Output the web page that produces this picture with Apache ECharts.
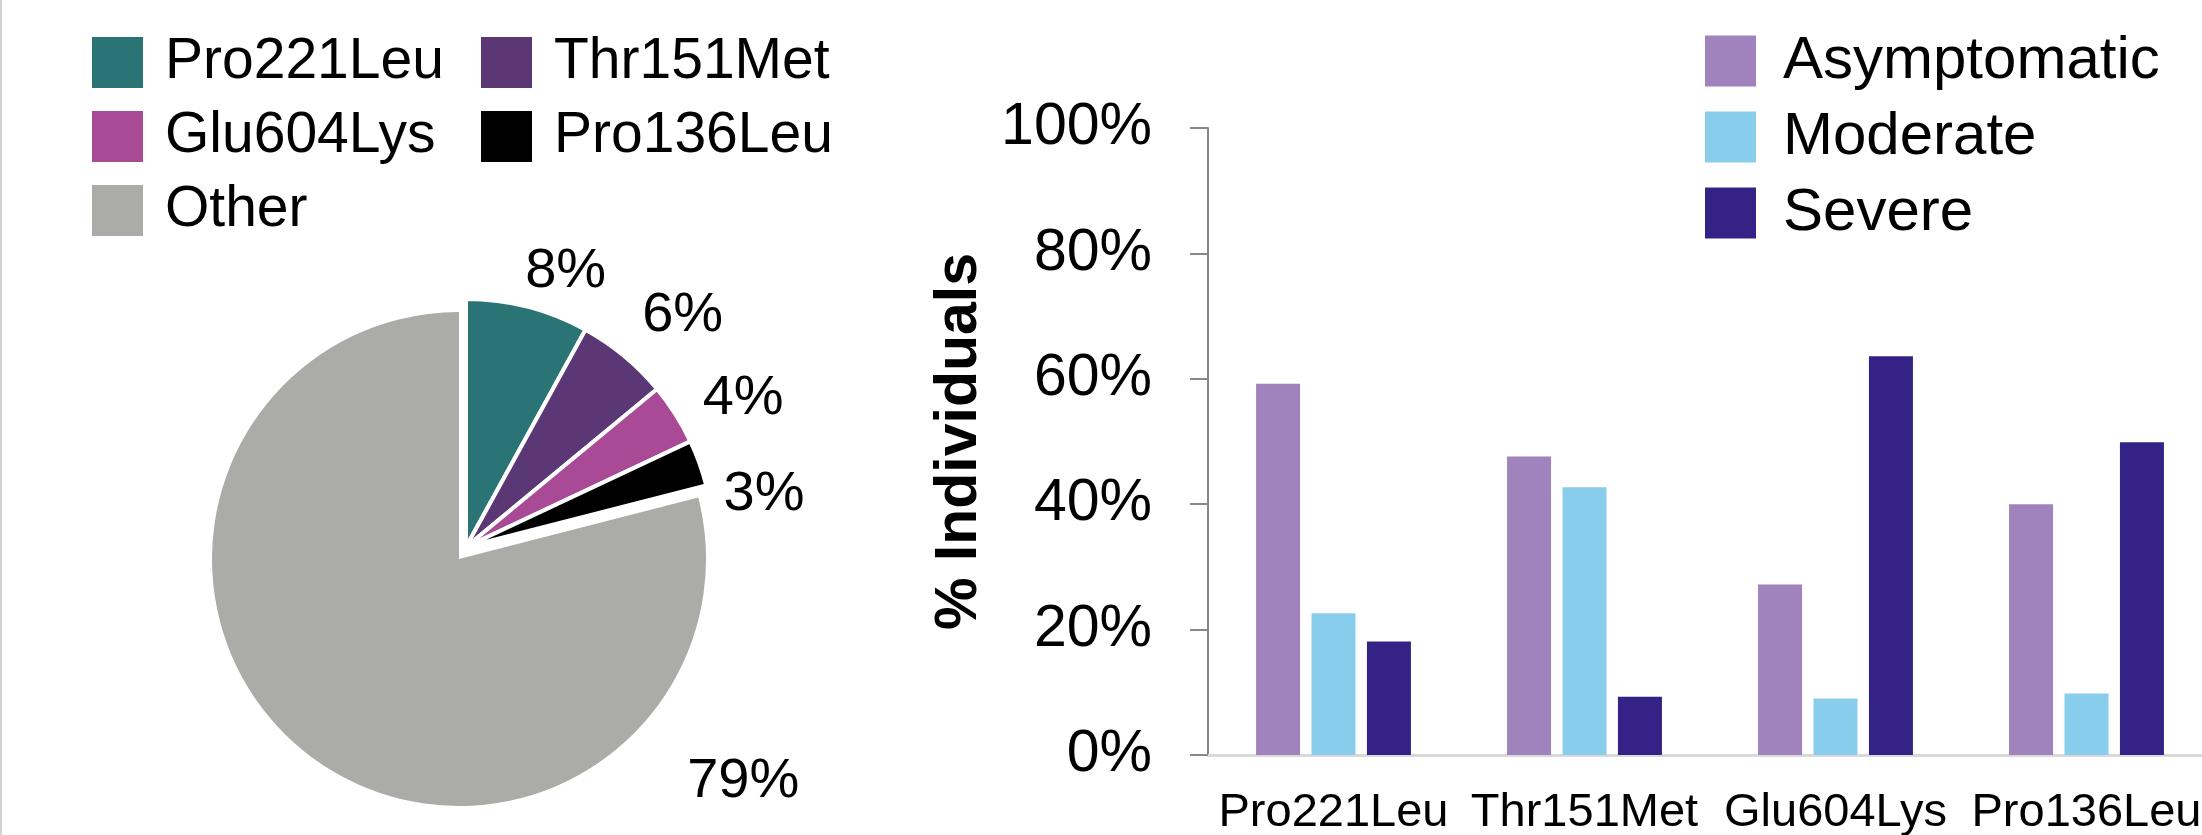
<!DOCTYPE html>
<html>
<head>
<meta charset="utf-8">
<script src="https://cdn.jsdelivr.net/npm/echarts@6/dist/echarts.min.js"></script>
<style>
html,body{margin:0;padding:0;background:#fff;}
#c{position:absolute;left:0;top:0;width:2202px;height:835px;}
#edge{position:absolute;left:0;top:0;width:2px;height:835px;background:#d2d2d2;}
</style>
</head>
<body>
<div id="c"></div>
<div id="edge"></div>
<script>
// ---- data ----
const variantNames = ['Pro221Leu', 'Thr151Met', 'Glu604Lys', 'Pro136Leu', 'Other'];
const variantShares = [8, 6, 4, 3, 79];
const categories = ['Pro221Leu', 'Thr151Met', 'Glu604Lys', 'Pro136Leu'];
const severityNames = ['Asymptomatic', 'Moderate', 'Severe'];
const asymptomatic = [59.2, 47.6, 27.2, 40.0];
const moderate = [22.6, 42.7, 9.0, 9.8];
const severe = [18.1, 9.3, 63.6, 49.9];

// ---- styles ----
const FONT = '"Liberation Sans", Arial, Helvetica, sans-serif';
const sliceColors = ['#2a7475', '#5b3776', '#a84a96', '#000000', '#abaca7'];
const barColors = ['#a082bd', '#89cded', '#352287'];
const labelNudge = [[-10, -6], [-1, -17], [2, 1], [-4, 42], [510, 4]];

const chart = echarts.init(document.getElementById('c'), null, {renderer: 'canvas'});

function pieData(greyPart) {
  return variantNames.map((n, i) => {
    const mine = (i === variantNames.length - 1) === greyPart;
    return {
      name: n,
      value: variantShares[i],
      itemStyle: mine ? {color: sliceColors[i]} : {color: 'rgba(0,0,0,0)', borderWidth: 0},
      label: {show: mine}
    };
  });
}

const pieLabel = {
  show: true,
  position: 'outside',
  formatter: '{c}%',
  fontSize: 56,
  fontFamily: FONT,
  color: '#000',
  distanceToLabelLine: 0
};
const pieLabelLine = {show: false, length: 30, length2: 0};
const nudge = (p) => ({dx: labelNudge[p.dataIndex][0], dy: labelNudge[p.dataIndex][1]});

const legendText = (size, pad) => ({fontSize: size, fontFamily: FONT, color: '#000', padding: [0, 0, 0, pad]});

const series = [
  {
    type: 'pie', name: 'grey', center: [459, 559], radius: 247,
    startAngle: 90, clockwise: true, avoidLabelOverlap: false,
    itemStyle: {borderWidth: 0},
    label: pieLabel, labelLine: pieLabelLine, labelLayout: nudge,
    emphasis: {disabled: true}, silent: true,
    data: pieData(true)
  },
  {
    type: 'pie', name: 'colored', center: [466, 547], radius: 248,
    startAngle: 90, clockwise: true, avoidLabelOverlap: false,
    itemStyle: {borderColor: '#ffffff', borderWidth: 4},
    label: pieLabel, labelLine: pieLabelLine, labelLayout: nudge,
    emphasis: {disabled: true}, silent: true,
    data: pieData(false)
  }
];
[asymptomatic, moderate, severe].forEach((vals, k) => {
  series.push({
    type: 'bar', name: severityNames[k], data: vals,
    barWidth: 44, barGap: '26%',
    itemStyle: {color: barColors[k]},
    emphasis: {disabled: true}, silent: true
  });
});

const option = {
  animation: false,
  backgroundColor: '#ffffff',
  legend: [
    {
      orient: 'vertical', left: 92, top: 34, padding: 0,
      itemWidth: 51, itemHeight: 51, itemGap: 17, icon: 'rect', selectedMode: false,
      data: [0, 2, 4].map(i => ({name: variantNames[i], itemStyle: {color: sliceColors[i], borderWidth: 0}})),
      textStyle: legendText(57, 17)
    },
    {
      orient: 'vertical', left: 481, top: 34, padding: 0,
      itemWidth: 51, itemHeight: 51, itemGap: 17, icon: 'rect', selectedMode: false,
      data: [1, 3].map(i => ({name: variantNames[i], itemStyle: {color: sliceColors[i], borderWidth: 0}})),
      textStyle: legendText(57, 17)
    },
    {
      orient: 'vertical', left: 1705, top: 31, padding: 0,
      itemWidth: 51, itemHeight: 51, itemGap: 16, icon: 'rect', selectedMode: false,
      data: severityNames.map((n, k) => ({name: n, itemStyle: {color: barColors[k], borderWidth: 0}})),
      textStyle: legendText(60, 22)
    }
  ],
  grid: {left: 1208, right: -10, top: 128, bottom: 80, containLabel: false, outerBoundsMode: 'none'},
  xAxis: {
    type: 'category', data: categories,
    axisLine: {show: true, lineStyle: {color: '#d9d9d9', width: 3}},
    axisTick: {show: false},
    axisLabel: {interval: 0, fontSize: 47, fontFamily: FONT, color: '#000', margin: 35}
  },
  yAxis: {
    type: 'value', min: 0, max: 100, interval: 20,
    name: '% Individuals', nameLocation: 'middle', nameGap: 219,
    nameTextStyle: {fontSize: 59, fontWeight: 'bold', fontFamily: FONT, color: '#000'},
    axisLine: {show: true, lineStyle: {color: '#888888', width: 2}},
    axisTick: {show: true, length: 18, lineStyle: {color: '#888888', width: 2}},
    splitLine: {show: false},
    axisLabel: {formatter: '{value}%', fontSize: 59, fontFamily: FONT, color: '#000', margin: 56}
  },
  series: series
};
chart.setOption(option);
</script>
</body>
</html>
